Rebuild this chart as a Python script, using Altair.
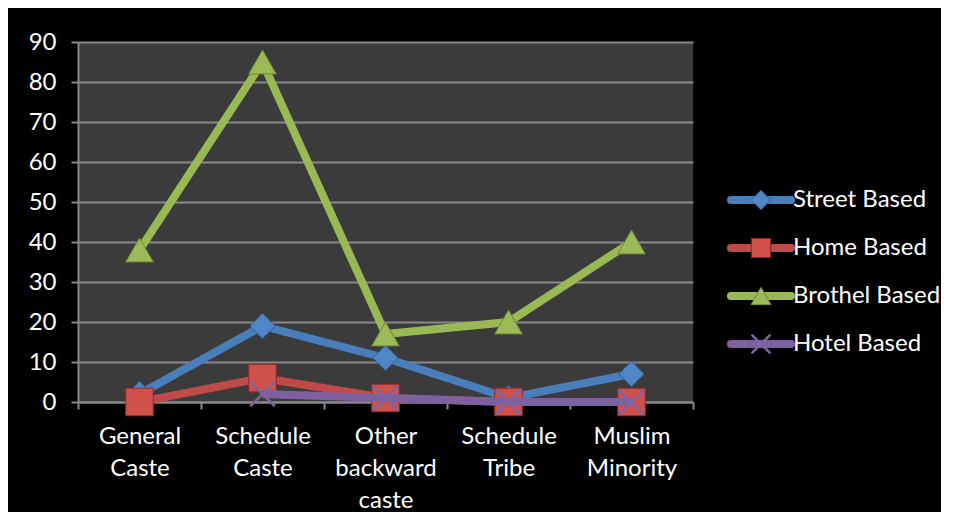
import altair as alt
import pandas as pd

categories = ["General Caste", "Schedule Caste", "Other backward caste", "Schedule Tribe", "Muslim Minority"]
series = ["Street Based", "Home Based", "Brothel Based", "Hotel Based"]
street = [2, 19, 11, 1, 7]
home = [0, 6, 1, 0, 0]
brothel = [38, 85, 17, 20, 40]
hotel = [None, 2, 1, 0, 0]
y_ticks = [0, 10, 20, 30, 40, 50, 60, 70, 80, 90]

line_colors = ["#4A7EBB", "#BE4B48", "#98B954", "#7D60A0"]
fill_colors = ["#4F86C6", "#D0504C", "#9BBB59", "#8064A2"]
edge_colors = ["#2C5D98", "#8C2A27", "#6B8A2F", "#8064A2"]
shapes = ["diamond", "square", "triangle-up", "M-1,-1L1,1M-1,1L1,-1"]
sizes = [650, 760, 760, 600]
legend_sizes = [380, 360, 400, 360]

FONT = "Lato"

rows = []
for s, vals in zip(series, [street, home, brothel, hotel]):
    for c, v in zip(categories, vals):
        if v is not None:
            rows.append({"category": c, "series": s, "value": v})
df = pd.DataFrame(rows)

x_enc = alt.X(
    "category:N",
    sort=categories,
    scale=alt.Scale(type="band", paddingInner=0, paddingOuter=0),
    axis=alt.Axis(
        title=None,
        labelExpr="split(datum.label, ' ')",
        labelAngle=0,
        tickBand="extent",
        grid=False,
        labelLineHeight=32,
        labelPadding=15,
        tickSize=7,
    ),
)
y_enc = alt.Y(
    "value:Q",
    scale=alt.Scale(domain=[0, 90], nice=False, zero=True),
    axis=alt.Axis(
        title=None,
        values=y_ticks,
        grid=True,
        tickSize=7,
        labelPadding=15,
        minExtent=62,
        maxExtent=62,
    ),
)

layers = []
for i, s in enumerate(series):
    base = alt.Chart(df).transform_filter(alt.datum.series == s)
    layers.append(
        base.mark_line(color=line_colors[i], strokeWidth=8).encode(x=x_enc, y=y_enc)
    )
    if i == 3:
        pt = base.mark_point(
            shape=shapes[i], filled=False, size=sizes[i], stroke=fill_colors[i],
            strokeWidth=2.5, opacity=1,
        )
    else:
        pt = base.mark_point(
            shape=shapes[i], filled=True, size=sizes[i], fill=fill_colors[i],
            stroke=edge_colors[i], strokeWidth=1, opacity=1,
        )
    layers.append(pt.encode(x=x_enc, y=y_enc))

main = alt.layer(*layers).properties(
    width=615, height=360,
    view=alt.ViewBackground(fill="#3B3B3B", stroke=None),
)

# Manual legend (line + marker + label)
ldf = pd.DataFrame({"series": series})
ly = alt.Y(
    "series:N", sort=series,
    scale=alt.Scale(type="point", domain=series, range=[158, 302], padding=0),
    axis=None,
)
leg_layers = []
for i, s in enumerate(series):
    b = alt.Chart(ldf).transform_filter(alt.datum.series == s)
    leg_layers.append(
        b.mark_rule(strokeWidth=8, strokeCap="round", color=line_colors[i]).encode(
            x=alt.value(37), x2=alt.value(97), y=ly
        )
    )
    if i == 3:
        lp = b.mark_point(shape=shapes[i], filled=False, size=legend_sizes[i],
                          stroke=fill_colors[i], strokeWidth=2.5, opacity=1)
    else:
        lp = b.mark_point(shape=shapes[i], filled=True, size=legend_sizes[i],
                          fill=fill_colors[i], stroke=edge_colors[i], strokeWidth=1, opacity=1)
    leg_layers.append(lp.encode(x=alt.value(67), y=ly))
    leg_layers.append(
        b.mark_text(align="left", baseline="middle", font=FONT, fontSize=24, color="white").encode(
            x=alt.value(99), y=ly, text="series:N"
        )
    )
legend = alt.layer(*leg_layers).properties(width=240, height=360)

chart = (
    alt.hconcat(main, legend, spacing=0)
    .properties(padding={"left": 8, "top": 22, "right": 0, "bottom": 0}, background="black")
    .configure_view(stroke=None, fill=None)
    .configure_axis(
        labelColor="white",
        labelFont=FONT,
        labelFontSize=24,
        domainColor="#8A8A8A",
        domainWidth=2,
        tickColor="#8A8A8A",
        tickWidth=2,
        gridColor="#8A8A8A",
        gridWidth=2,
    )
)

chart.save("out.html", embed_options={"renderer": "svg", "actions": False})
